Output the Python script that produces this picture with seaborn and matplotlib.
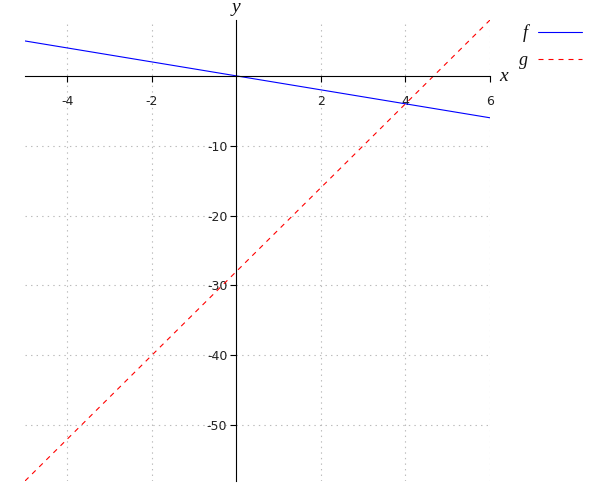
import matplotlib
matplotlib.use("Agg")
import matplotlib.pyplot as plt
import seaborn as sns

# Data
x_vals = [-5, 6]
f_vals = [5, -6]
g_vals = [-58, 8]
x_ticks = [-4, -2, 2, 4, 6]
y_ticks = [-10, -20, -30, -40, -50]
series_labels = ["f", "g"]

sns.set_theme(style="white")
plt.rcParams["lines.scale_dashes"] = False
plt.rcParams["font.family"] = ["DejaVu Sans"]

fig = plt.figure(figsize=(6, 5), dpi=100)
ax = fig.add_axes([25 / 600, 1 - 481 / 500, 465 / 600, 461 / 500])

sns.lineplot(x=x_vals, y=f_vals, color="blue", linewidth=0.8, label=series_labels[0], ax=ax)
sns.lineplot(x=x_vals, y=g_vals, color="red", linewidth=0.8, label=series_labels[1], ax=ax,
             linestyle=(0, (3.6, 3.6)))

ax.set_xlim(-5, 6)
ax.set_ylim(-58, 8)
ax.set_xticks(x_ticks)
ax.set_yticks(y_ticks)
ax.set_xticklabels([str(v) for v in x_ticks])
ax.set_yticklabels([str(v) for v in y_ticks])

for s in ["top", "right"]:
    ax.spines[s].set_visible(False)
for s in ["left", "bottom"]:
    ax.spines[s].set_position("zero")
    ax.spines[s].set_color("black")
    ax.spines[s].set_linewidth(0.8)

ax.tick_params(axis="both", direction="out", length=4.5, width=0.8, color="black",
               labelsize=9, labelcolor="#222222", pad=3)
ax.tick_params(axis="x", pad=9)
ax.tick_params(axis="y", pad=2)
ax.xaxis.set_ticks_position("bottom")
ax.yaxis.set_ticks_position("left")

ax.grid(True, linestyle=(0, (1, 3)), color="#bbbbbb", linewidth=0.8)
ax.set_axisbelow(True)
ax.set_xlabel("")
ax.set_ylabel("")

serif = dict(family="Liberation Serif", style="italic", size=14, color="#111111")
fig.text(236 / 600, 1 - 12 / 500, "y", ha="center", va="baseline", **serif)
fig.text(499 / 600, 1 - 81 / 500, "x", ha="left", va="baseline", **serif)

ax.get_legend().remove()
leg = fig.legend(loc="upper left", bbox_to_anchor=(503 / 600, 1 - 8 / 500),
                 markerfirst=False, frameon=False, handlelength=2.45, handletextpad=0.55,
                 labelspacing=0.55, prop=dict(family="Liberation Serif", style="italic", size=13))
for t in leg.get_texts():
    t.set_color("#111111")

fig.savefig("out.png", dpi=100)
